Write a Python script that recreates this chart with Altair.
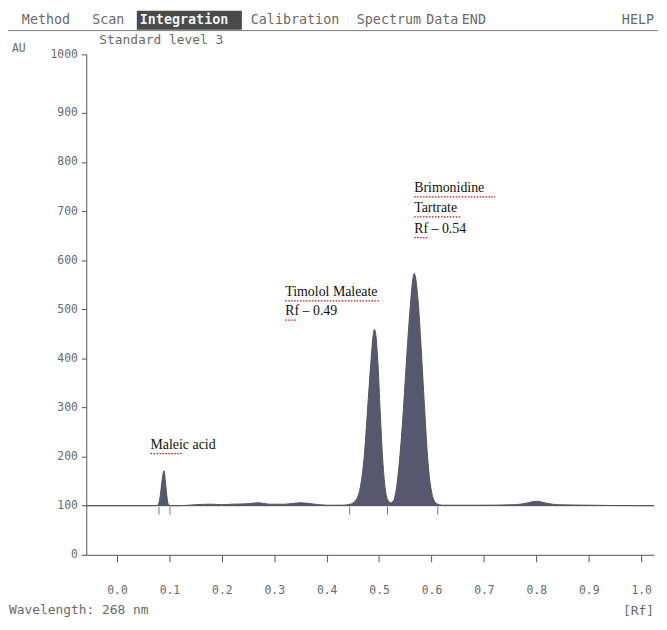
import altair as alt
import pandas as pd

# ---- densitogram trace (Rf vs AU) ----
trace_rf = [-0.058, 0.00, 0.07, 0.078, 0.082, 0.085, 0.088, 0.090, 0.092, 0.095, 0.098, 0.102,
            0.12, 0.15, 0.18, 0.20, 0.22, 0.25, 0.27, 0.29, 0.32, 0.35, 0.37, 0.40, 0.43,
            0.445, 0.455, 0.465, 0.472, 0.478, 0.484, 0.488, 0.491, 0.494, 0.498, 0.502,
            0.507, 0.512, 0.517, 0.522, 0.528, 0.534, 0.540, 0.547, 0.553, 0.559, 0.564,
            0.567, 0.570, 0.575, 0.581, 0.587, 0.593, 0.598, 0.603, 0.610, 0.620, 0.70,
            0.76, 0.78, 0.80, 0.82, 0.84, 0.90, 1.00, 1.024]
trace_au = [100, 100, 100, 101, 117, 142, 166, 171, 153, 121, 103, 100,
            100, 102, 103, 102, 103, 104, 106, 103, 103, 106, 104, 101, 101,
            103, 110, 142, 204, 295, 387, 440, 459, 446, 387, 295,
            193, 132, 111, 106, 111, 142, 204, 306, 408, 499, 558,
            573, 562, 510, 408, 295, 193, 142, 116, 104, 101, 101,
            102, 105, 109, 105, 102, 101, 100, 100]

# integration boundary marks
marker_rf = [0.080, 0.101, 0.444, 0.516, 0.612]

# compound annotations
ann_text = ["Maleic acid", "Timolol Maleate", "Rf – 0.49", "Brimonidine", "Tartrate", "Rf – 0.54"]
ann_rf = [0.064, 0.321, 0.321, 0.567, 0.567, 0.567]
ann_au = [224, 535, 496, 747, 706, 664]

# spell-check squiggles under annotation words (rf start, rf end, au)
sq_rf1 = [0.064, 0.321, 0.321, 0.567, 0.567, 0.567]
sq_rf2 = [0.126, 0.500, 0.343, 0.722, 0.655, 0.592]
sq_au = [206, 517, 478, 729, 688, 646]

# axis ticks (the instrument prints its "1000" label at the very top of the axis)
x_ticks = [0.0, 0.1, 0.2, 0.3, 0.4, 0.5, 0.6, 0.7, 0.8, 0.9, 1.0]
y_top = 1019
y_ticks = [0, 100, 200, 300, 400, 500, 600, 700, 800, 900, y_top]

# menu bar
menu_words = ["Method", "Scan", "Calibration", "Spectrum", "Data", "END"]
menu_x = [-65, 6, 166, 273, 343, 379]

MONO = "DejaVu Sans Mono"
GREY = "#6a6a6a"

trace = pd.DataFrame({"rf": trace_rf, "au": trace_au})
markers = pd.DataFrame({"rf": marker_rf})
ann = pd.DataFrame({"t": ann_text, "rf": ann_rf, "au": ann_au})
squig = pd.DataFrame({"rf": sq_rf1, "rf2": sq_rf2, "au": sq_au})
menu = pd.DataFrame({"t": menu_words, "px": menu_x})
one = pd.DataFrame({"a": [0]})

xs = alt.Scale(domain=[-0.0586, 1.0246], nice=False, zero=False)
ys = alt.Scale(domain=[0, y_top], nice=False)

xax = alt.Axis(values=x_ticks, format=".1f", title=None, grid=False,
               domainColor="#555", tickColor="#555", tickSize=7,
               labelColor=GREY, labelFont=MONO, labelFontSize=11.5,
               labelPadding=23)
yax = alt.Axis(values=y_ticks, format="d", title=None, grid=False,
               labelExpr="datum.value > 950 ? '1000' : datum.label",
               domainColor="#555", tickColor="#555", tickSize=5,
               labelColor=GREY, labelFont=MONO, labelFontSize=11.5,
               labelPadding=4)

base_rule = alt.Chart(one).mark_rule(color="#555", strokeWidth=1).encode(
    y=alt.datum(100, scale=ys))

area = alt.Chart(trace).mark_area(color="#4e4e68", interpolate="monotone", opacity=0.95).encode(
    x=alt.X("rf:Q", scale=xs, axis=xax),
    y=alt.Y("au:Q", scale=ys, axis=yax),
    y2=alt.datum(100),
)
line = alt.Chart(trace).mark_line(color="#555", interpolate="monotone", strokeWidth=1).encode(
    x=alt.X("rf:Q", scale=xs),
    y=alt.Y("au:Q", scale=ys),
)

marks = alt.Chart(markers).mark_rule(color="#777", strokeWidth=1).encode(
    x=alt.X("rf:Q", scale=xs),
    y=alt.datum(98, scale=ys),
    y2=alt.datum(82),
)

ann_layer = alt.Chart(ann).mark_text(align="left", baseline="middle", font="Liberation Serif",
                                     fontSize=14, color="#111").encode(
    x=alt.X("rf:Q", scale=xs), y=alt.Y("au:Q", scale=ys), text="t:N")

squig_layer = alt.Chart(squig).mark_rule(color="#d01010", strokeWidth=1.2,
                                         strokeDash=[1.5, 1.5]).encode(
    x=alt.X("rf:Q", scale=xs), x2="rf2:Q", y=alt.Y("au:Q", scale=ys))

# UI chrome
menu_line = alt.Chart(one).mark_rule(color="#777", strokeWidth=1).encode(
    x=alt.value(-79), x2=alt.value(577), y=alt.value(-24))
hl_box = alt.Chart(one).mark_rect(color="#4a4a4a").encode(
    x=alt.value(51), x2=alt.value(157), y=alt.value(-44), y2=alt.value(-25))
hl_text = alt.Chart(one).mark_text(text="Integration", align="left", baseline="middle",
                                   font=MONO, fontSize=13.5, color="#f2f2f2",
                                   fontWeight="bold").encode(
    x=alt.value(54), y=alt.value(-35))
menu_text = alt.Chart(menu).mark_text(align="left", baseline="middle", font=MONO,
                                      fontSize=13.5, color=GREY).encode(
    x=alt.X("px:Q", scale=None), y=alt.value(-35), text="t:N")

def label(txt, px, py, align="left", size=13):
    return alt.Chart(one).mark_text(text=txt, align=align, baseline="middle", font=MONO,
                                    fontSize=size, color=GREY).encode(
        x=alt.value(px), y=alt.value(py))

chrome = [
    label("HELP", 573, -35, align="right", size=13.5),
    label("Standard level 3", 13, -14),
    label("AU", -75, -5, size=11.5),
    label("Wavelength: 268 nm", -78, 561, size=13),
    label("[Rf]", 573, 562, align="right", size=13),
]

chart = alt.layer(
    base_rule, area, line, marks, squig_layer, ann_layer,
    hl_box, menu_line, hl_text, menu_text, *chrome
).properties(
    width=573, height=505,
    padding={"left": 79, "top": 44, "right": 5, "bottom": 65},
    autosize=alt.AutoSizeParams(type="none"),
    background="white",
).configure_view(stroke=None)

chart.save("out.html", embed_options={"renderer": "svg", "actions": False})
